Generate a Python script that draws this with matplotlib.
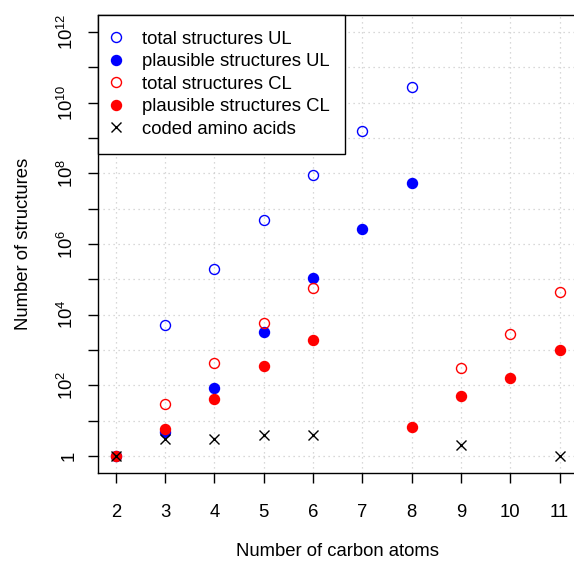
"""Number of carbon-skeleton structures vs carbon count (log scale)."""
import matplotlib
matplotlib.use("Agg")
import matplotlib.pyplot as plt
import numpy as np

carbons = [2, 3, 4, 5, 6, 7, 8, 9, 10, 11]

x_total_ul = [3, 4, 5, 6, 7, 8]
total_ul = [5.0e3, 1.9e5, 4.7e6, 8.8e7, 1.6e9, 2.8e10]

x_plaus_ul = [2, 3, 4, 5, 6, 7, 8]
plaus_ul = [1, 4.7, 84, 3.3e3, 1.1e5, 2.6e6, 5.2e7]

x_total_cl = [3, 4, 5, 6, 9, 10, 11]
total_cl = [29, 440, 5.7e3, 5.8e4, 315, 2.9e3, 4.4e4]

x_plaus_cl = [2, 3, 4, 5, 6, 8, 9, 10, 11]
plaus_cl = [1, 5.9, 40, 357, 1.94e3, 6.7, 50, 165, 1.03e3]

x_coded = [2, 3, 4, 5, 6, 9, 11]
coded = [1, 3, 3, 4, 4, 2, 1]

FS = 13.3
plt.rcParams.update({
    "font.family": ["Liberation Sans", "DejaVu Sans"],
    "font.size": FS,
    "mathtext.fontset": "custom",
    "mathtext.rm": "Liberation Sans",
    "mathtext.it": "Liberation Sans",
})

fig = plt.figure(figsize=(5.74, 5.62), dpi=100)
ax = fig.add_axes([0.1707, 0.1584, 0.835, 0.8149])

grid = dict(color="#cccccc", lw=0.9, ls=(0, (1, 3)), zorder=0)
for c in carbons:
    ax.axvline(c, **grid)
for e in range(0, 13):
    ax.axhline(10.0 ** e, **grid)

ms = 7.2
ax.plot(x_total_ul, total_ul, "o", ls="none", mfc="none", mec="blue", mew=1.0, ms=ms,
        label="total structures UL", zorder=3)
ax.plot(x_plaus_ul, plaus_ul, "o", ls="none", mfc="blue", mec="blue", ms=ms,
        label="plausible structures UL", zorder=3)
ax.plot(x_total_cl, total_cl, "o", ls="none", mfc="none", mec="red", mew=1.0, ms=ms,
        label="total structures CL", zorder=3)
ax.plot(x_plaus_cl, plaus_cl, "o", ls="none", mfc="red", mec="red", ms=ms,
        label="plausible structures CL", zorder=3)
ax.plot(x_coded, coded, "x", ls="none", color="black", mew=1.0, ms=ms,
        label="coded amino acids", zorder=4)

ax.set_yscale("log")
ax.set_ylim(10 ** -0.48, 10 ** 12.48)
ax.set_xlim(1.64, 11.36)
ax.set_xticks(carbons)
ax.set_yticks([10.0 ** e for e in range(13)])
ax.set_yticklabels(["1" if e == 0 else (f"$10^{{{e}}}$" if e % 2 == 0 else "")
                    for e in range(13)])
ax.yaxis.set_minor_locator(matplotlib.ticker.NullLocator())
for lab in ax.get_yticklabels():
    lab.set_rotation(90)
    lab.set_va("center")
ax.tick_params(axis="both", direction="out", length=7, width=1.0, labelsize=FS)
ax.tick_params(axis="x", pad=15)
ax.tick_params(axis="y", pad=8)
for s in ax.spines.values():
    s.set_linewidth(1.0)

ax.set_xlabel("Number of carbon atoms", labelpad=16)
ax.set_ylabel("Number of structures", labelpad=18)

leg = ax.legend(loc="upper left", bbox_to_anchor=(0.0, 1.0), fancybox=False,
                framealpha=1, edgecolor="black", borderaxespad=0, handlelength=0.25,
                handletextpad=1.28, borderpad=0.85, labelspacing=0.3)
leg.get_frame().set_linewidth(1.0)

fig.savefig("out.png", dpi=100)
